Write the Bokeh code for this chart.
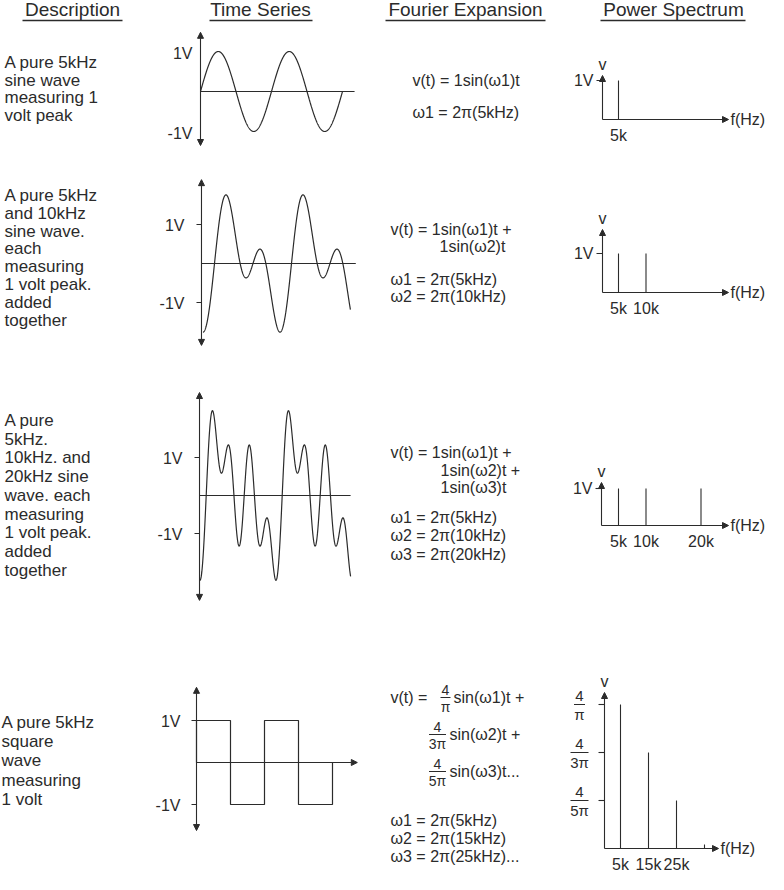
import numpy as np
from bokeh.plotting import figure
from bokeh.models import Range1d, Arrow, NormalHead
from bokeh.core.properties import value
from bokeh.embed import file_html
from bokeh.resources import INLINE

# ------------------------------------------------------------------ data
headers = ["Description", "Time Series", "Fourier Expansion", "Power Spectrum"]

desc_rows = [
    ["A pure 5kHz", "sine wave", "measuring 1", "volt peak"],
    ["A pure 5kHz", "and 10kHz", "sine wave.", "each", "measuring",
     "1 volt peak.", "added", "together"],
    ["A pure", "5kHz.", "10kHz. and", "20kHz sine", "wave. each",
     "measuring", "1 volt peak.", "added", "together"],
    ["A pure 5kHz", "square", "wave", "measuring", "1 volt"],
]

# sine components of the three summed time series (kHz, volts peak)
ts_freqs_khz = [[5], [5, 10], [5, 10, 20]]
ts_amps_v = [[1], [1, 1], [1, 1, 1]]
ts_windows_us = [(0, 400), (-30, 353), (-17.6, 380)]   # part of the trace shown
ts_level_labels = ["1V", "-1V"]
ts_levels_v = [1, -1]

square_freq_khz = 5
square_amp_v = 1
square_window_us = (0, 400)

# power spectra: line frequencies (kHz) and drawn heights
spec_freqs_khz = [[5], [5, 10], [5, 10, 20], [5, 15, 25]]
spec_heights = [[1], [1, 1], [1, 1, 1], [3, 2, 1]]      # 4th: levels 4/π, 4/3π, 4/5π
spec_freq_labels = [["5k"], ["5k", "10k"], ["5k", "10k", "20k"], ["5k", "15k", "25k"]]
square_level_fracs = [("4", "π"), ("4", "3π"), ("4", "5π")]
square_level_pos = [3, 2, 1]
square_next_harmonic_khz = 35

fourier_text = [
    ["v(t) = 1sin(ω1)t", "ω1 = 2π(5kHz)"],
    ["v(t) = 1sin(ω1)t  +", "1sin(ω2)t", "ω1 = 2π(5kHz)", "ω2 = 2π(10kHz)"],
    ["v(t) = 1sin(ω1)t  +", "1sin(ω2)t  +", "1sin(ω3)t",
     "ω1 = 2π(5kHz)", "ω2 = 2π(10kHz)", "ω3 = 2π(20kHz)"],
    ["v(t) = ", "sin(ω1)t  +", "sin(ω2)t  +", "sin(ω3)t...",
     "ω1 = 2π(5kHz)", "ω2 = 2π(15kHz)", "ω3 = 2π(25kHz)..."],
]
fourier_fracs = [("4", "π"), ("4", "3π"), ("4", "5π")]

# ------------------------------------------------------------------ layout
INK = "#2b2b2b"
FONT = "Liberation Sans"
W, H = 768, 874          # frame size; page coords: x 8..776, y 8..882
X0, Y0 = 8, 8

header_pos = [(80, 17), (268, 17), (473, 17), (681, 17)]
header_rule = [(30, 130), (217, 320), (393, 553), (608, 753)]
header_rule_y = 28

desc_pos = [(12, 70, 17.5), (12, 203, 17.8), (12, 428, 18.7), (9, 730, 19.2)]

fourier_pos = [
    [(420, 88), (420, 120)],
    [(398, 237), (447, 254), (398, 287), (398, 304)],
    [(398, 460), (448, 478), (448, 495), (398, 525), (398, 543), (398, 562)],
    [(398, 705), (461, 705), (457, 742), (457, 779), (398, 828), (398, 846), (398, 864)],
]
fourier_frac_pos = [(453, 705, 10), (445, 742, 17), (445, 779, 17)]

# time-series panels: page x of t=0, px per µs, page y of 0 V, px per V
ts_cfg = [
    dict(t0x=208.0, kx=71 / 200, zy=99, ky=40, axis_t=0.0, axis_v=(-1.35, 1.48), zero_end_t=434, ticks=False),
    dict(t0x=222.0, kx=77 / 200, zy=271, ky=39, axis_t=-33.8, axis_v=(-2.10, 2.15), zero_end_t=367, ticks=True),
    dict(t0x=213.7, kx=76 / 200, zy=503, ky=38, axis_t=-17.6, axis_v=(-2.76, 2.71), zero_end_t=380, ticks=True),
]
sq_cfg = dict(t0x=204.0, kx=68 / 200, zy=770, ky=42, axis_t=0.0, axis_v=(-1.62, 1.79), zero_end_t=473)

# spectrum panels: page x of 0 kHz, px per kHz, page y of baseline, px per unit
sp_cfg = [
    dict(f0x=598.5, kx=5.5, by=127, ky=39, axis_x=610, top_y=83, end_x=736),
    dict(f0x=598.5, kx=5.5, by=300, ky=39, axis_x=610, top_y=237, end_x=736),
    dict(f0x=598.5, kx=5.5, by=533, ky=37, axis_x=609, top_y=490, end_x=736),
    dict(f0x=614.0, kx=2.8, by=856, ky=48, axis_x=612, top_y=700, end_x=726),
]

LW = 1.1

# ------------------------------------------------------------------ figure
p = figure(width=W, height=H, x_range=Range1d(X0, X0 + W), y_range=Range1d(Y0 + H, Y0),
           output_backend="svg", toolbar_location=None, min_border=0,
           x_axis_location=None, y_axis_location=None)
p.grid.visible = False
p.outline_line_color = None
p.background_fill_color = "white"
p.border_fill_color = "white"


def add_ranges(name, x_pix0, kx, y_pix0, ky):
    xs = -(x_pix0 - X0) / kx
    ys = -((Y0 + H) - y_pix0) / ky
    p.extra_x_ranges[name] = Range1d(xs, xs + W / kx)
    p.extra_y_ranges[name] = Range1d(ys, ys + H / ky)


def txt(xs, ys, texts, size="17px", align="left", baseline="middle", rn=None, xo=0, yo=0):
    kw = dict(x_range_name=rn, y_range_name=rn) if rn else {}
    p.text(x=xs, y=ys, text=texts, text_font=value(FONT), text_font_size=size,
           text_align=align, text_baseline=baseline, text_color=INK,
           x_offset=xo, y_offset=yo, **kw)


def head():
    return NormalHead(size=6, fill_color=INK, line_color=INK, line_width=1)


def arrow(x0, y0, x1, y1, rn, start=False, end=True, lw=LW):
    p.add_layout(Arrow(x_start=x0, y_start=y0, x_end=x1, y_end=y1,
                       start=head() if start else None, end=head() if end else None,
                       line_color=INK, line_width=lw, x_range_name=rn, y_range_name=rn))


# headers
for (hx, hy), h, (r0, r1) in zip(header_pos, headers, header_rule):
    txt([hx], [hy], [h], size="19px", align="center")
    p.segment(x0=[r0], y0=[header_rule_y], x1=[r1], y1=[header_rule_y], line_color=INK, line_width=1.5)

# description column
for (dx, dy, dl), lines in zip(desc_pos, desc_rows):
    txt([dx] * len(lines), [dy + i * dl for i in range(len(lines))], lines, size="17px")

# fourier column
for pos, lines in zip(fourier_pos, fourier_text):
    txt([q[0] for q in pos], [q[1] for q in pos], lines, size="16px")
for (fx, fy, bw), (num, den) in zip(fourier_frac_pos, fourier_fracs):
    txt([fx], [fy - 8], [num], size="14px", align="center")
    txt([fx], [fy + 9], [den], size="14px", align="center")
    p.segment(x0=[fx - bw / 2], y0=[fy], x1=[fx + bw / 2], y1=[fy], line_color=INK, line_width=1)

# time series (sums of sines)
for i, c in enumerate(ts_cfg):
    rn = f"ts{i}"
    add_ranges(rn, c["t0x"], c["kx"], c["zy"], c["ky"])
    t = np.linspace(ts_windows_us[i][0], ts_windows_us[i][1], 900)
    v = np.zeros_like(t)
    for f, a in zip(ts_freqs_khz[i], ts_amps_v[i]):
        v = v + a * np.sin(2 * np.pi * f * t / 1000.0)
    p.line(t, v, line_color=INK, line_width=1.2, x_range_name=rn, y_range_name=rn)
    arrow(c["axis_t"], c["axis_v"][0], c["axis_t"], c["axis_v"][1], rn, start=True, end=True)
    p.segment(x0=[c["axis_t"]], y0=[0], x1=[c["zero_end_t"]], y1=[0],
              line_color=INK, line_width=LW, x_range_name=rn, y_range_name=rn)
    if c["ticks"]:
        tl = 5 / c["kx"]
        p.segment(x0=[c["axis_t"] - tl] * 2, y0=ts_levels_v, x1=[c["axis_t"]] * 2, y1=ts_levels_v,
                  line_color=INK, line_width=LW, x_range_name=rn, y_range_name=rn)
        txt([c["axis_t"]] * 2, ts_levels_v, ts_level_labels, size="16px", align="right",
            rn=rn, xo=-17, yo=1)
    else:
        txt([c["axis_t"]] * 2, ts_levels_v, ts_level_labels, size="16px", align="right",
            rn=rn, xo=-8, yo=2)

# square wave
rn = "sq"
c = sq_cfg
add_ranges(rn, c["t0x"], c["kx"], c["zy"], c["ky"])
half = 1000.0 / (2 * square_freq_khz)
edges = np.arange(square_window_us[0], square_window_us[1] + half / 2, half)
sx, sy = [edges[0]], [0.0]
for a, b in zip(edges[:-1], edges[1:]):
    lvl = square_amp_v * np.sign(np.sin(2 * np.pi * square_freq_khz * (a + b) / 2 / 1000.0))
    sx += [a, b]
    sy += [lvl, lvl]
sx.append(edges[-1])
sy.append(0.0)
p.line(sx, sy, line_color=INK, line_width=1.2, x_range_name=rn, y_range_name=rn)
arrow(c["axis_t"], c["axis_v"][0], c["axis_t"], c["axis_v"][1], rn, start=True, end=True)
arrow(c["axis_t"], 0, c["zero_end_t"], 0, rn, start=False, end=True)
tl = 5 / c["kx"]
p.segment(x0=[c["axis_t"] - tl] * 2, y0=ts_levels_v, x1=[c["axis_t"]] * 2, y1=ts_levels_v,
          line_color=INK, line_width=LW, x_range_name=rn, y_range_name=rn)
txt([c["axis_t"]] * 2, ts_levels_v, ts_level_labels, size="16px", align="right", rn=rn, xo=-16, yo=1)

# power spectra
for i, c in enumerate(sp_cfg):
    rn = f"sp{i}"
    add_ranges(rn, c["f0x"], c["kx"], c["by"], c["ky"])
    fa = (c["axis_x"] - c["f0x"]) / c["kx"]
    top = (c["by"] - c["top_y"]) / c["ky"]
    fend = (c["end_x"] - c["f0x"]) / c["kx"]
    arrow(fa, 0, fa, top, rn)
    arrow(fa, 0, fend, 0, rn)
    txt([fa], [top], ["v"], size="16px", align="center", rn=rn, yo=-11)
    p.segment(x0=spec_freqs_khz[i], y0=[0] * len(spec_freqs_khz[i]),
              x1=spec_freqs_khz[i], y1=spec_heights[i],
              line_color=INK, line_width=LW, x_range_name=rn, y_range_name=rn)
    txt(spec_freqs_khz[i], [0] * len(spec_freqs_khz[i]), spec_freq_labels[i], size="16px",
        align="center", rn=rn, yo=16)
    txt([fend], [0], ["f(Hz)"], size="16px", align="left", rn=rn, xo=2)
    tl = 6 / c["kx"]
    if i < 3:
        p.segment(x0=[fa - tl], y0=[1], x1=[fa], y1=[1], line_color=INK, line_width=LW,
                  x_range_name=rn, y_range_name=rn)
        txt([fa], [1], ["1V"], size="16px", align="right", rn=rn, xo=-9)
    else:
        n = len(square_level_pos)
        p.segment(x0=[fa - tl] * n, y0=square_level_pos, x1=[fa] * n, y1=square_level_pos,
                  line_color=INK, line_width=LW, x_range_name=rn, y_range_name=rn)
        for lv, (num, den) in zip(square_level_pos, square_level_fracs):
            txt([fa], [lv], [num], size="15px", align="center", rn=rn, xo=-25, yo=-9)
            txt([fa], [lv], [den], size="15px", align="center", rn=rn, xo=-25, yo=10)
            bw = 11 if len(den) == 1 else 18
            p.segment(x0=[fa + (-25 - bw / 2) / c["kx"]], y0=[lv], x1=[fa + (-25 + bw / 2) / c["kx"]],
                      y1=[lv], line_color=INK, line_width=1, x_range_name=rn, y_range_name=rn)
        tk = 4 / c["ky"]
        p.segment(x0=[square_next_harmonic_khz], y0=[0], x1=[square_next_harmonic_khz], y1=[tk],
                  line_color=INK, line_width=LW, x_range_name=rn, y_range_name=rn)

open("out.html", "w").write(file_html(p, INLINE))
